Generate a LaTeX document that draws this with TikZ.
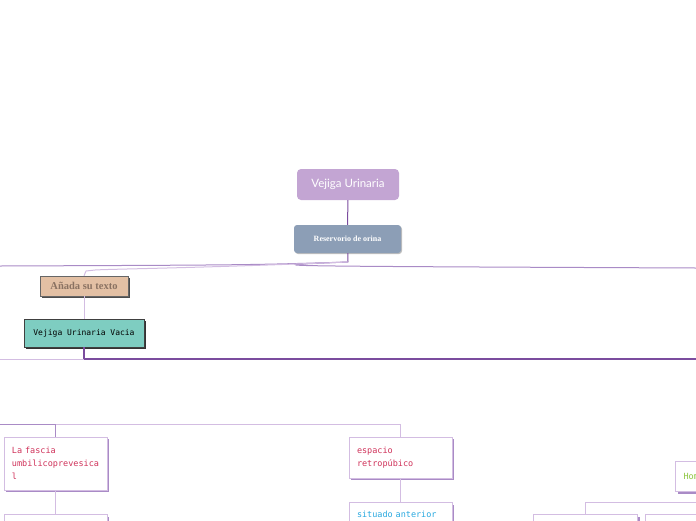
\documentclass[tikz,border=0pt]{standalone}
\usepackage{fontspec}
\setmainfont{Liberation Serif}
\newfontfamily\latofont{Lato}
\newfontfamily\pixfont{DejaVu Sans Mono}
\usetikzlibrary{shadows}
\definecolor{rootlila}{HTML}{C3A5D3}
\definecolor{resgris}{HTML}{8C9EB6}
\definecolor{anadafill}{HTML}{E3C0A4}
\definecolor{anadatxt}{HTML}{8A7262}
\definecolor{vaciafill}{HTML}{7ECDC1}
\definecolor{lila}{HTML}{7B4C9E}
\definecolor{lilaclaro}{HTML}{D3BDE2}
\definecolor{lilamedio}{HTML}{A98BC6}
\definecolor{rojo}{HTML}{D0325A}
\definecolor{azul}{HTML}{29A9E0}
\definecolor{verde}{HTML}{8DC63F}
\begin{document}
\begin{tikzpicture}[x=1pt,y=-1pt,
  rt/.style={fill=rootlila,rounded corners=4pt,text=white,font=\latofont\fontsize{11.5}{13}\selectfont,minimum width=102pt,minimum height=31pt},
  rs/.style={fill=resgris,rounded corners=3pt,text=white,font=\bfseries\fontsize{8}{9}\selectfont,minimum width=107pt,minimum height=28pt,
    drop shadow={shadow xshift=1pt,shadow yshift=-1pt,fill=black!25,opacity=1}},
  ad/.style={fill=anadafill,draw=black!60,text=anadatxt,font=\bfseries\fontsize{10.5}{12}\selectfont,minimum width=88pt,minimum height=20pt,
    drop shadow={shadow xshift=2pt,shadow yshift=-2pt,fill=black!70,opacity=1}},
  vc/.style={fill=vaciafill,draw=black!75,font=\pixfont\fontsize{8}{10}\selectfont,minimum width=120pt,minimum height=28pt,
    drop shadow={shadow xshift=2pt,shadow yshift=-2pt,fill=black!80,opacity=1}},
  wb/.style={fill=white,draw=lilaclaro,line width=1pt,minimum width=103pt,align=left,text width=87pt,inner xsep=8pt,
    font=\pixfont\fontsize{8.5}{13}\selectfont,drop shadow={shadow xshift=2pt,shadow yshift=-2pt,fill=lilamedio,opacity=1}},
  ln/.style={draw=lila,line width=1pt},
  lt/.style={draw=lilaclaro,line width=1pt},
  lm/.style={draw=lilamedio,line width=1pt},
  lk/.style={draw=lila,line width=1.6pt}]
\clip (0,0) rectangle (696,520);
\useasboundingbox (0,0) rectangle (696,520);
%------------- top: root and first child
\node[rt] (root) at (348,184.5) {Vejiga Urinaria};
\node[rs] (res) at (347.5,239) {Reservorio de orina};
\coordinate (j1) at (348,262);
\coordinate (edgeL1) at (0,266);
\coordinate (edgeR1) at (696,268);
\draw[ln] (root) -- (res);
\draw[ln] (res) -- (j1);
\draw[lm] (j1) .. controls (250,265) .. (edgeL1);
\draw[lm] (j1) .. controls (250,266) .. (edgeR1);
%------------- left branch
\node[ad] (anada) at (84,286) {Añada su texto};
\node[vc] (vacia) at (84,333) {Vejiga Urinaria Vacia};
\draw[lt] (j1) .. controls (200,268) and (110,269) .. (95,270) -- (86,271) -- (anada.north);
\draw[lt] (anada) -- (vacia);
\coordinate (j2) at (84,359);
\coordinate (edgeL2) at (0,359);
\coordinate (edgeR2) at (696,359);
\draw[lk] (vacia) -- (j2) -- (edgeR2);
\draw[lt] (j2) -- (edgeL2);
%------------- row y=424: fascia and espacio
\node[wb,text=rojo,minimum height=53pt] (fascia) at (55.5,463.5) {La fascia\\umbilicoprevesica\\l};
\node[wb,text=rojo,minimum height=41pt] (espacio) at (400.5,457.5) {espacio\\retropúbico};
\node[wb,anchor=north,minimum height=36pt] (fchild) at (55.5,514) {};
\node[wb,text=azul,anchor=north,inner ysep=9pt,text depth=20pt] (situado) at (400.5,502) {situado anterior};
\coordinate (lvlL) at (0,424);
\draw[lm] (lvlL) -| (fascia.north);
\draw[lt] (fascia.north |- lvlL) -| (espacio.north);
\draw[lt] (fascia) -- (fchild);
\draw[lt] (espacio) -- (situado);
%------------- right side
\node[wb,text=verde,anchor=north west,minimum height=30pt] (hom) at (675,461) {Hom};
\node[wb,anchor=north west,minimum width=104pt,minimum height=36pt] (bl) at (533,514) {};
\node[wb,anchor=north west,minimum width=104pt,minimum height=36pt] (br) at (645,514) {};
\coordinate (edgeR3) at (696,502);
\draw[lt] (edgeR3) -| (bl.north);
\end{tikzpicture}
\end{document}
